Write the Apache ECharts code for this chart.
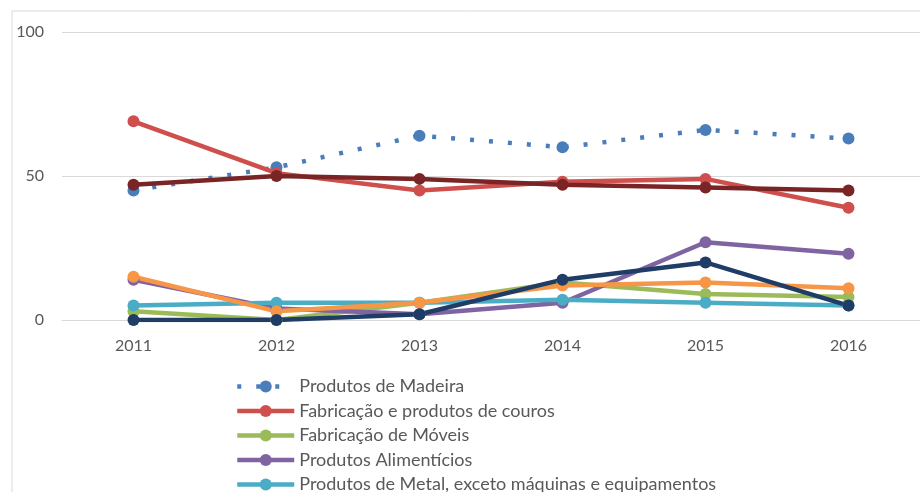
<!DOCTYPE html>
<html>
<head>
<meta charset="utf-8">
<script src="https://cdn.jsdelivr.net/npm/echarts@6/dist/echarts.min.js"></script>
<style>
  html, body { margin: 0; padding: 0; background: #fff; }
  #chart { width: 920px; height: 492px; }
</style>
</head>
<body>
<div id="chart"></div>
<script>
// dados
var anos = ["2011", "2012", "2013", "2014", "2015", "2016"];
var madeira = [45, 53, 64, 60, 66, 63];
var couros = [69, 51, 45, 48, 49, 39];
var moveis = [3, 0, 6, 13, 9, 8];
var alimenticios = [14, 4, 2, 6, 27, 23];
var metal = [5, 6, 6, 7, 6, 5];
var serie6 = [15, 3, 6, 12, 13, 11];
var serie7 = [0, 0, 2, 14, 20, 5];
var serie8 = [47, 50, 49, 47, 46, 45];

var nomesLegenda = [
  "Produtos de Madeira",
  "Fabricação e produtos de couros",
  "Fabricação de Móveis",
  "Produtos Alimentícios",
  "Produtos de Metal, exceto máquinas e equipamentos"
];

var myChart = echarts.init(document.getElementById("chart"));

function linha(nome, dados, cor, tipo) {
  return {
    name: nome,
    type: "line",
    data: dados,
    symbol: "circle",
    symbolSize: 12,
    color: cor,
    lineStyle: { width: 4.5, color: cor, type: tipo || "solid", cap: "butt" },
    itemStyle: { color: cor },
    emphasis: { disabled: true },
    animation: false
  };
}

var option = {
  backgroundColor: "#fff",
  graphic: [
    {
      type: "rect",
      shape: { x: 12, y: 11, width: 920, height: 500 },
      style: { fill: "none", stroke: "#d9d9d9", lineWidth: 1 },
      silent: true
    }
  ],
  grid: { left: 62, top: 32, width: 864, height: 288 },
  legend: {
    data: nomesLegenda,
    orient: "vertical",
    left: 235,
    top: 377.5,
    height: 300,
    padding: 0,
    itemWidth: 57,
    itemHeight: 15,
    itemGap: 6.5,
    lineStyle: { width: 4.5 },
    textStyle: { fontFamily: "Lato", fontSize: 18, color: "#595959", lineHeight: 18 }
  },
  xAxis: {
    type: "category",
    data: anos,
    boundaryGap: true,
    axisLine: { lineStyle: { color: "#d9d9d9" } },
    axisTick: { show: false },
    axisLabel: { fontFamily: "Lato", fontSize: 16, color: "#595959", margin: 18 }
  },
  yAxis: {
    type: "value",
    min: 0,
    max: 100,
    interval: 50,
    axisLine: { show: false },
    axisTick: { show: false },
    splitLine: { lineStyle: { color: "#d9d9d9" } },
    axisLabel: { fontFamily: "Lato", fontSize: 16, color: "#595959", margin: 18 }
  },
  series: [
    linha("Produtos de Madeira", madeira, "#4a7ebb", [4, 15]),
    linha("Fabricação e produtos de couros", couros, "#cf4f4c"),
    linha("Fabricação de Móveis", moveis, "#9bbb59"),
    linha("Produtos Alimentícios", alimenticios, "#8064a2"),
    linha("Produtos de Metal, exceto máquinas e equipamentos", metal, "#4bacc6"),
    linha("Série 6", serie6, "#f79646"),
    linha("Série 7", serie7, "#1f3d66"),
    linha("Série 8", serie8, "#7a2525")
  ]
};

myChart.setOption(option);
</script>
</body>
</html>
